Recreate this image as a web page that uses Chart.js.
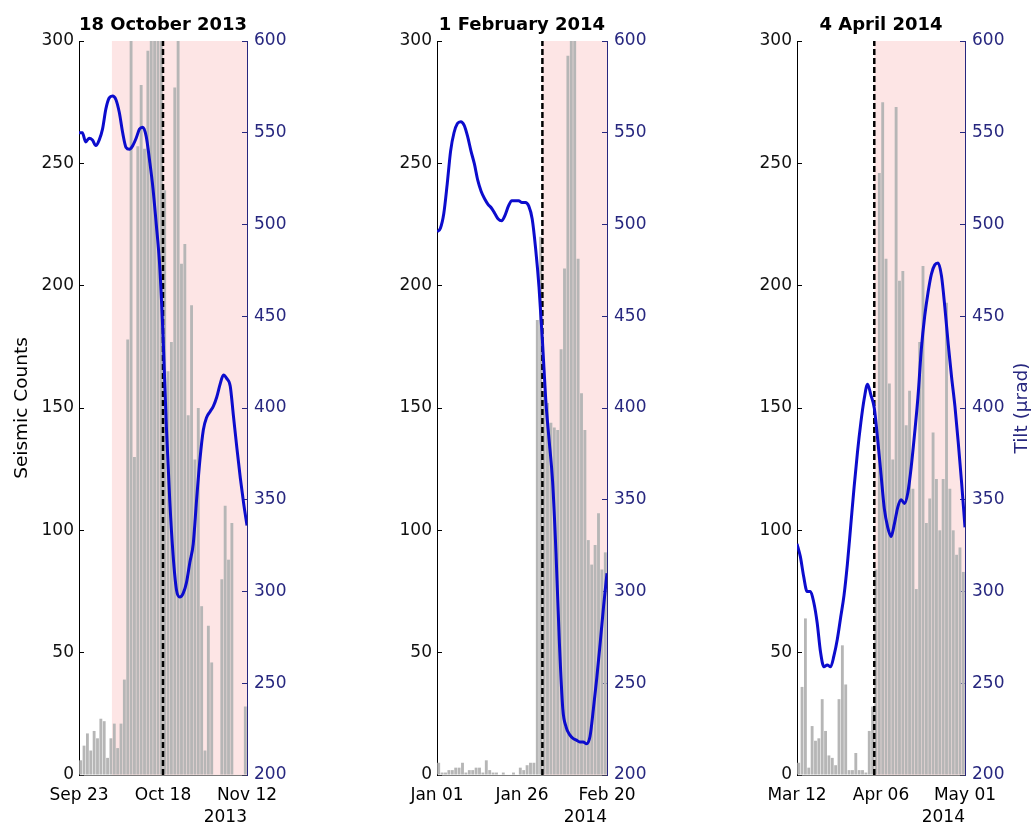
<!DOCTYPE html>
<html>
<head>
<meta charset="utf-8">
<title>Seismic counts and tilt</title>
<script src="https://cdn.jsdelivr.net/npm/chart.js@4.4.1/dist/chart.umd.min.js"></script>
<style>
    body { margin: 0; background: #fff; }
    canvas.panel { position: absolute; top: 0; }
</style>
</head>
<body>
<canvas id="panel1" class="panel" width="330" height="828" style="left:0px"></canvas>
<canvas id="panel2" class="panel" width="330" height="828" style="left:340px"></canvas>
<canvas id="panel3" class="panel" width="335" height="828" style="left:700px"></canvas>
<script>
// panel titles, date ticks (day 0, 25, 50 of each window) and year under the last tick
const titles = ['18 October 2013', '1 February 2014', '4 April 2014'];
const dates1 = ['Sep 23', 'Oct 18', 'Nov 12'];
const dates2 = ['Jan 01', 'Jan 26', 'Feb 20'];
const dates3 = ['Mar 12', 'Apr 06', 'May 01'];
const years = ['2013', '2014', '2014'];
const dayTicks = [0, 25, 50];
const countTicks = [0, 50, 100, 150, 200, 250, 300];
const tiltTicks = [200, 250, 300, 350, 400, 450, 500, 550, 600];

// eruption day (dashed line) and start of the shaded period, in days from window start
const eventDays = [25, 31, 23];
const shadeStarts = [9.8, 31, 23];
const shadeEnd = 50;

// daily seismic counts, days 0..49
const counts1 = [6, 12, 17, 10, 18, 15, 23, 22, 7, 15, 21, 11, 21, 39, 178, 310, 130, 257, 282, 256,
    296, 320, 320, 320, 320, 239, 165, 177, 281, 330, 209, 217, 147, 192, 129, 150, 69, 10, 61, 46,
    0, 0, 80, 110, 88, 103, 0, 0, 0, 28];
const counts2 = [5, 1, 1, 2, 2, 3, 3, 5, 1, 2, 2, 3, 3, 1, 6, 2, 1, 1, 0, 1,
    0, 0, 1, 0, 3, 2, 4, 5, 5, 186, 220, 155, 152, 144, 142, 141, 174, 207, 294, 310,
    310, 211, 156, 141, 96, 86, 94, 107, 84, 91];
const counts3 = [5, 36, 64, 3, 20, 14, 15, 31, 18, 8, 7, 4, 31, 53, 37, 2, 2, 9, 2, 2,
    1, 18, 28, 84, 246, 275, 211, 160, 129, 273, 202, 206, 143, 157, 117, 76, 177, 208, 103, 113,
    140, 121, 100, 121, 193, 117, 100, 90, 93, 83];

// tilt (µrad), days 0..50
const tilt1 = [550, 550, 545, 547, 546, 543, 546, 552, 563, 569, 570, 568, 561, 550, 542, 541, 543, 547, 552, 553,
    548, 535, 520, 500, 478, 440, 390, 350, 320, 301, 297, 299, 305, 316, 326, 350, 372, 388, 395, 398,
    401, 406, 413, 418, 416, 412, 395, 378, 362, 348, 336];
const tilt2 = [496, 498, 506, 522, 540, 550, 555, 556, 554, 548, 540, 533, 524, 518, 514, 511, 509, 506, 503, 502,
    505, 510, 513, 513, 513, 512, 512, 510, 503, 487, 466, 437, 404, 382, 360, 321, 272, 236, 226, 222,
    220, 219, 218, 218, 217, 221, 236, 253, 272, 292, 310];
const tilt3 = [326, 319, 308, 300, 300, 294, 283, 267, 259, 260, 259, 265, 274, 286, 298, 315, 336, 357, 376, 392,
    405, 413, 407, 400, 383, 364, 345, 335, 330, 337, 346, 350, 348, 354, 368, 386, 406, 432, 450, 463,
    473, 478, 479, 472, 455, 435, 417, 401, 381, 359, 335];

const barColor = 'rgb(182, 182, 182)';
const shadeColor = 'rgb(253, 229, 229)';
const tiltColor = 'rgb(12, 12, 205)';
const tiltAxisColor = '#27277f';

Chart.defaults.font.family = '"DejaVu Sans", sans-serif';
Chart.defaults.font.size = 17;
Chart.defaults.color = '#000';

const shadePlugin = {
    id: 'shade',
    beforeDraw(chart, args, opts) {
        const x = chart.scales.x;
        const area = chart.chartArea;
        const x0 = x.getPixelForValue(opts.from);
        const x1 = x.getPixelForValue(opts.to);
        chart.ctx.save();
        chart.ctx.fillStyle = shadeColor;
        chart.ctx.fillRect(x0, area.top, x1 - x0, area.bottom - area.top);
        chart.ctx.restore();
    }
};

// MATLAB-style right label reads bottom to top
const sideLabel = {
    id: 'sideLabel',
    afterDraw(chart, args, opts) {
        if (!opts.text) return;
        const area = chart.chartArea;
        const ctx = chart.ctx;
        ctx.save();
        ctx.translate(opts.x, (area.top + area.bottom) / 2);
        ctx.rotate(-Math.PI / 2);
        ctx.textAlign = 'center';
        ctx.textBaseline = 'middle';
        ctx.fillStyle = tiltAxisColor;
        ctx.font = '18.5px "DejaVu Sans"';
        ctx.fillText(opts.text, 0, 0);
        ctx.restore();
    }
};

function makePanel(p) {
    const ctx = document.getElementById(p.id).getContext('2d');
    return new Chart(ctx, {
        type: 'bar',
        data: {
            datasets: [{
                type: 'line',
                label: 'Tilt',
                data: p.tilt.map((v, i) => ({ x: i, y: v })),
                yAxisID: 'yTilt',
                borderColor: tiltColor,
                borderWidth: 3,
                pointRadius: 0,
                cubicInterpolationMode: 'monotone',
                order: 0,
                clip: 0
            }, {
                type: 'line',
                label: 'Eruption',
                data: [{ x: p.eventDay, y: countTicks[0] }, { x: p.eventDay, y: countTicks[countTicks.length - 1] }],
                yAxisID: 'yCount',
                borderColor: '#000',
                borderWidth: 2.5,
                borderDash: [6, 3],
                pointRadius: 0,
                order: 1,
                clip: 0
            }, {
                type: 'bar',
                label: 'Seismic counts',
                data: p.counts.map((v, i) => ({ x: i + 0.5, y: v })),
                yAxisID: 'yCount',
                backgroundColor: barColor,
                categoryPercentage: 1,
                barPercentage: 0.85,
                order: 2,
                clip: 0
            }]
        },
        options: {
            responsive: false,
            devicePixelRatio: 1,
            animation: false,
            layout: { padding: 0 },
            scales: {
                x: {
                    type: 'linear',
                    min: 0,
                    max: 50,
                    offset: false,
                    afterBuildTicks: (scale) => { scale.ticks = dayTicks.map(v => ({ value: v })); },
                    afterFit: (scale) => { scale.height = 53; },
                    ticks: {
                        autoSkip: false,
                        maxRotation: 0,
                        padding: 10,
                        callback: (value) => p.dates[dayTicks.indexOf(value)]
                    },
                    grid: { display: false, drawTicks: false },
                    border: { display: true, color: 'rgba(70,70,70,0.7)', dash: [1, 2] },
                    title: { display: true, text: p.year, align: 'end', padding: { top: 0, bottom: 0 } }
                },
                yCount: {
                    type: 'linear',
                    position: 'left',
                    min: 0,
                    max: 300,
                    afterBuildTicks: (scale) => { scale.ticks = countTicks.map(v => ({ value: v })); },
                    afterFit: (scale) => { scale.width = p.leftWidth; },
                    ticks: { padding: 10, color: '#111' },
                    grid: { drawOnChartArea: false, tickLength: -5, color: '#000' },
                    border: { display: true, color: '#000', width: 1 },
                    title: {
                        display: p.countTitle,
                        text: 'Seismic Counts',
                        font: { size: 18.5 },
                        padding: { top: 11, bottom: 0 }
                    }
                },
                yTilt: {
                    type: 'linear',
                    position: 'right',
                    min: 200,
                    max: 600,
                    afterBuildTicks: (scale) => { scale.ticks = tiltTicks.map(v => ({ value: v })); },
                    afterFit: (scale) => { scale.width = p.rightWidth; },
                    ticks: { padding: 12, color: tiltAxisColor },
                    grid: { drawOnChartArea: false, tickLength: -5, color: tiltAxisColor },
                    border: { display: true, color: tiltAxisColor, width: 1 }
                }
            },
            plugins: {
                legend: { display: false },
                tooltip: { enabled: false },
                title: {
                    display: true,
                    text: p.title,
                    fullSize: false,
                    color: '#000',
                    font: { size: 18, weight: 'bold' },
                    padding: { top: 15, bottom: 4.4 }
                },
                shade: { from: p.shadeFrom, to: shadeEnd },
                sideLabel: { text: p.tiltTitle, x: p.tiltTitleX }
            }
        },
        plugins: [shadePlugin, sideLabel]
    });
}

window.addEventListener('load', () => {
    makePanel({
        id: 'panel1', counts: counts1, tilt: tilt1, dates: dates1, year: years[0], title: titles[0],
        eventDay: eventDays[0], shadeFrom: shadeStarts[0], leftWidth: 79, rightWidth: 83,
        countTitle: true, tiltTitle: ''
    });
    makePanel({
        id: 'panel2', counts: counts2, tilt: tilt2, dates: dates2, year: years[1], title: titles[1],
        eventDay: eventDays[1], shadeFrom: shadeStarts[1], leftWidth: 97, rightWidth: 63,
        countTitle: false, tiltTitle: ''
    });
    makePanel({
        id: 'panel3', counts: counts3, tilt: tilt3, dates: dates3, year: years[2], title: titles[2],
        eventDay: eventDays[2], shadeFrom: shadeStarts[2], leftWidth: 97, rightWidth: 70,
        countTitle: false, tiltTitle: 'Tilt (µrad)', tiltTitleX: 322
    });
});
</script>
</body>
</html>
